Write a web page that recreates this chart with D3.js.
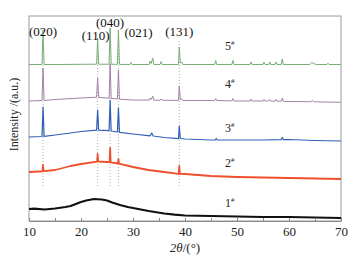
<!DOCTYPE html>
<html><head><meta charset="utf-8">
<script src="https://cdn.jsdelivr.net/npm/d3@7"></script>
<style>body{margin:0;background:#fff}svg{display:block}</style>
</head><body><div id="chart"></div>
<script>
// ---- DATA (2θ in degrees, stacked intensity in a.u.) ----
const xTicks = [10, 20, 30, 40, 50, 60, 70];
const xMinorTicks = [15, 25, 35, 45, 55, 65];

const peakPositions = [12.7, 23.2, 25.6, 27.2, 38.9];
const peakLabels = ["(020)", "(110)", "(040)", "(021)", "(131)"];
const peakLabelLevels = [185, 181, 194, 184, 185];

const sampleNames = ["5", "4", "3", "2", "1"];
const sampleLabelLevels = [171, 133, 89, 54, 14];

const s5 = [[10,156.5],[12.5,156.5],[12.7,191],[12.9,156.5],[16,156.5],[20,156.7],[23,156.8],[23.2,183],[23.4,156.8],[25.4,156.8],[25.6,193],[25.8,156.8],[27,156.7],[27.2,191],[27.4,156.6],[29.4,156.5],[29.6,158.5],[29.8,156.5],[33.1,156.5],[33.3,160],[33.5,157.5],[33.8,163],[34,156.5],[35.2,156.5],[35.4,159.5],[35.6,156.5],[38.75,156.5],[38.9,174],[39.1,158],[39.4,159],[39.6,156.5],[45.7,156.5],[45.9,160.5],[46.1,156.5],[49,156.5],[49.2,160.5],[49.4,156.5],[52.5,156.5],[52.7,159],[52.9,156.5],[55,156.5],[55.2,159],[55.4,156.5],[56.1,156.5],[56.3,159],[56.5,156.5],[57.3,156.5],[57.5,159],[57.7,156.5],[58.5,156.5],[58.7,162],[58.9,156.5],[64,156.5],[64.4,158.5],[64.8,157.5],[65.2,156.5],[67.3,156.5],[67.5,157.8],[67.7,156.5],[70,156.5]];

const s4 = [[10,120],[12.5,120.5],[12.7,153],[12.9,120.5],[15,121.5],[20,123],[23,123.8],[23.2,143],[23.4,123.6],[25.4,122.8],[25.6,157],[25.8,122.6],[27,122],[27.2,151],[27.4,121.8],[30,121],[33.1,120.9],[33.3,123],[33.5,121.5],[33.8,125],[34,120.8],[35.2,120.8],[35.4,122],[35.6,120.8],[38.75,120.6],[38.9,135],[39.1,121.5],[39.4,122],[39.6,120.5],[45.7,120.5],[45.9,122.5],[46.1,120.5],[49,120.1],[49.2,122.5],[49.4,120],[52.5,120],[52.7,122],[52.9,120],[55,120],[55.2,121.5],[55.4,120],[56.1,120],[56.3,121.5],[56.5,119.9],[57.3,119.9],[57.5,121.5],[57.7,119.8],[58.5,119.8],[58.7,123],[58.9,119.7],[60,119.5],[64.2,119.3],[64.5,120.5],[64.8,119.2],[70,118.7]];

const s3 = [[10,84],[12.5,84.5],[12.7,114],[12.9,84.6],[15,86],[18,88],[20,89.5],[23,90.8],[23.2,111],[23.4,90.9],[25.4,90.3],[25.6,121],[25.8,90],[27,89],[27.2,113],[27.4,88.6],[30,87],[33.3,85.2],[33.6,88],[33.9,85],[36,83.5],[38.75,82.3],[38.9,95],[39.1,82.5],[40,82],[45,81],[45.8,81],[46,82.5],[46.2,81],[50,81],[55,81],[58.5,81.4],[58.7,83.5],[58.9,81.4],[60,81.5],[65,80.5],[70,80]];

const s2 = [[10,49],[12,49.5],[12.6,49.7],[12.7,56],[12.8,49.8],[15,51],[18,55],[20,57],[23.1,59.4],[23.2,67],[23.3,59.5],[25,59],[25.5,58.8],[25.6,73],[25.7,58.7],[27.1,57.5],[27.2,62],[27.3,57.3],[30,54],[33,51],[36,49],[38.8,47.2],[38.9,55],[39,47.1],[40,47],[45,45],[50,44],[55,43.5],[60,43],[65,42.5],[70,42]];

const s1 = [[10,12],[11,12.3],[13,11.5],[15,12.5],[17,14],[18,15],[19,17],[20,19],[21,20.5],[22.5,22],[24,21.5],[25,20.5],[26,18.5],[27.5,16],[29,14],[30,13],[31.5,11.5],[33,10],[36,7.5],[38,6.3],[40,5.5],[45,5],[50,4.5],[55,4],[60,4],[65,3.5],[70,3]];

const series = [
  {data: s5, color: "#78ad74", width: 1},
  {data: s4, color: "#a481a8", width: 1},
  {data: s3, color: "#2f5fb5", width: 1.2},
  {data: s2, color: "#ee4f2c", width: 1.8},
  {data: s1, color: "#111111", width: 2.2}
];

// ---- LAYOUT ----
const W = 358, H = 262;
const m = {left: 29, right: 17, top: 16, bottom: 41};
const svg = d3.select("#chart").append("svg").attr("width", W).attr("height", H);

const x = d3.scaleLinear().domain([10, 70]).range([m.left, W - m.right]);
const y = d3.scaleLinear().domain([0, 205]).range([H - m.bottom, m.top]);

const serif = "'Liberation Serif','Times New Roman',serif";

// frame
svg.append("rect").attr("x", m.left).attr("y", m.top)
  .attr("width", W - m.right - m.left).attr("height", H - m.bottom - m.top)
  .attr("fill", "none").attr("stroke", "#9a9a9a").attr("stroke-width", 1);

// dotted reference lines
svg.append("g").selectAll("line").data(peakPositions).join("line")
  .attr("x1", d => x(d)).attr("x2", d => x(d))
  .attr("y1", y(180)).attr("y2", y(34))
  .attr("stroke", "#9a9a9a").attr("stroke-width", 0.8)
  .attr("stroke-dasharray", "1,2");

// curves
const line = d3.line().x(d => x(d[0])).y(d => y(d[1]));
svg.append("g").selectAll("path").data(series).join("path")
  .attr("d", d => line(d.data))
  .attr("fill", "none")
  .attr("stroke", d => d.color)
  .attr("stroke-width", d => d.width)
  .attr("stroke-linejoin", "round");

// x axis
const xAxis = d3.axisBottom(x)
  .tickValues(xTicks.concat(xMinorTicks).sort((a, b) => a - b))
  .tickSizeInner(-3).tickSizeOuter(0).tickPadding(6)
  .tickFormat(d => xTicks.includes(d) ? d : "");
const gx = svg.append("g").attr("transform", `translate(0,${H - m.bottom})`).call(xAxis);
gx.select(".domain").attr("stroke", "#8a8a8a");
gx.selectAll(".tick line").attr("stroke", "#8a8a8a");
gx.selectAll("text").attr("font-family", serif).attr("font-size", 13).attr("fill", "#222");

// x axis title
const xt = svg.append("text").attr("x", x(40)).attr("y", 252)
  .attr("text-anchor", "middle").attr("font-family", serif).attr("font-size", 13).attr("fill", "#222");
xt.append("tspan").attr("font-style", "italic").text("2θ");
xt.append("tspan").text("/(°)");

// y axis title
svg.append("text")
  .attr("transform", `translate(18,${(m.top + H - m.bottom) / 2 - 4}) rotate(-90)`)
  .attr("text-anchor", "middle").attr("font-family", serif).attr("font-size", 12).attr("fill", "#222")
  .text("Intensity /(a.u.)");

// peak labels
svg.append("g").selectAll("text").data(peakLabels).join("text")
  .attr("x", (d, i) => x(peakPositions[i]) + (i === 3 ? 6 : 0) + (i === 1 ? -2 : 0))
  .attr("y", (d, i) => y(peakLabelLevels[i]))
  .attr("text-anchor", (d, i) => i === 3 ? "start" : "middle")
  .attr("font-family", serif).attr("font-size", 13).attr("fill", "#111")
  .text(d => d);

// sample labels
const sl = svg.append("g").selectAll("text").data(sampleNames).join("text")
  .attr("x", 225).attr("y", (d, i) => y(sampleLabelLevels[i]))
  .attr("font-family", serif).attr("font-size", 12).attr("fill", "#222");
sl.append("tspan").text(d => d);
sl.append("tspan").attr("font-size", 7).attr("dy", -5).text("#");
</script>
</body></html>
